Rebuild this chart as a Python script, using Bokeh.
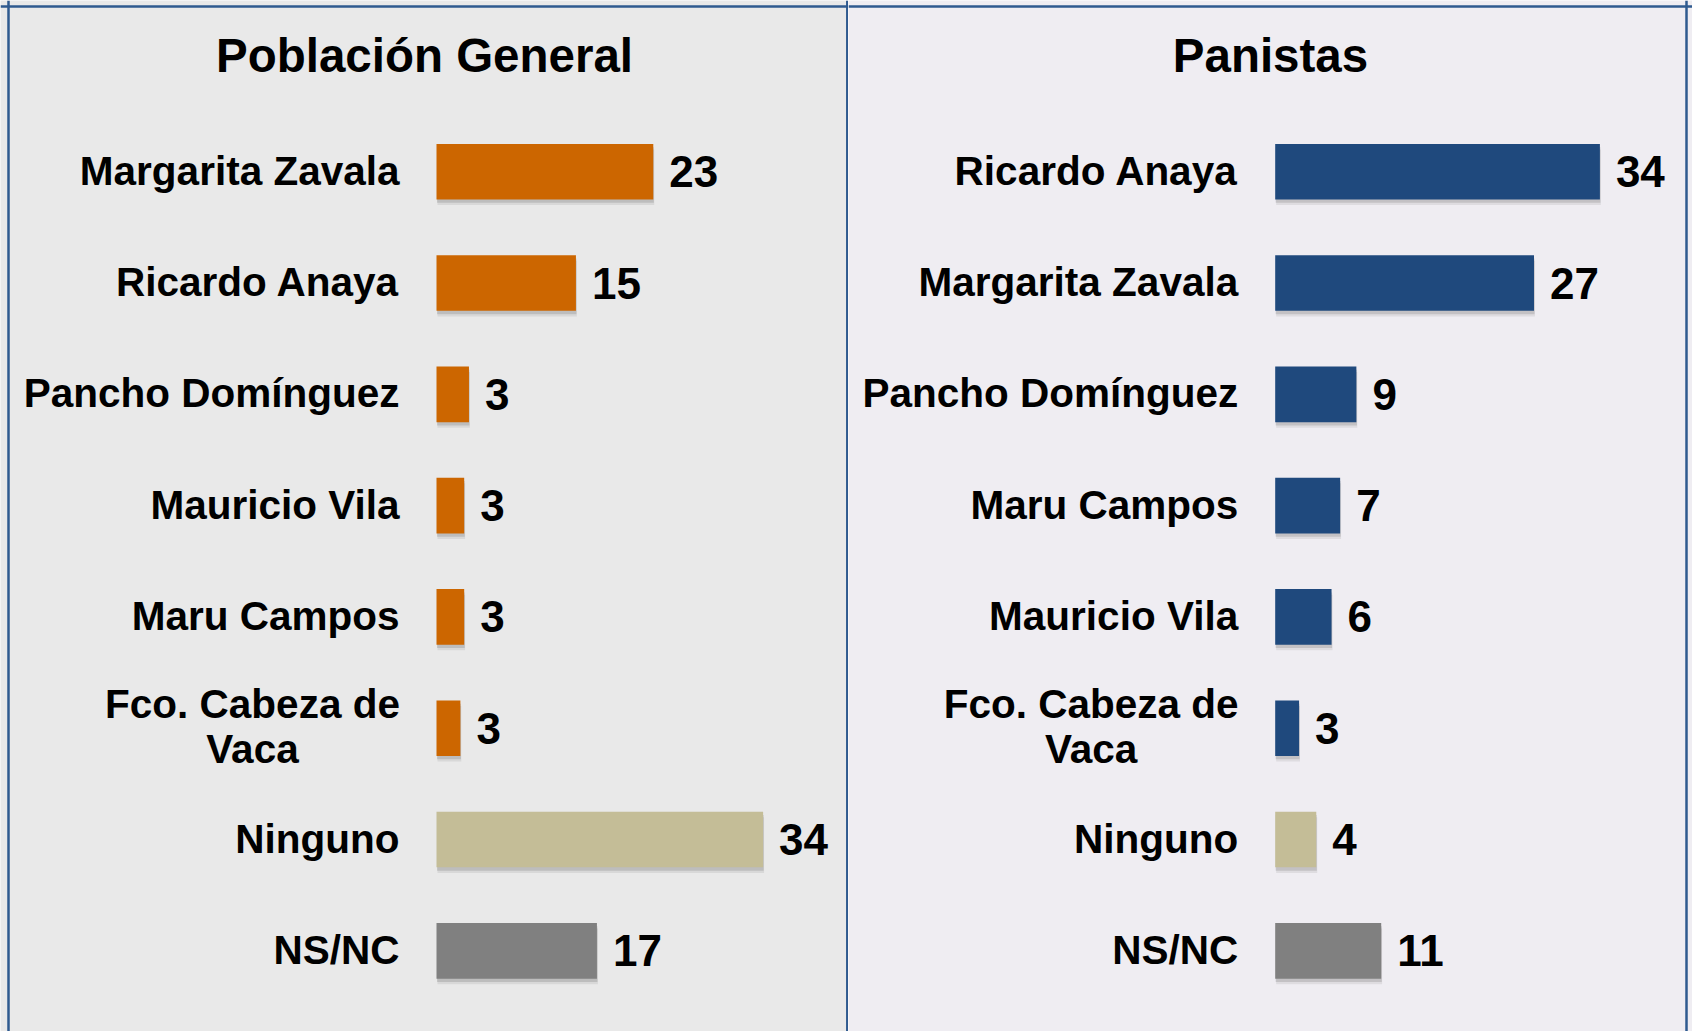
from bokeh.plotting import figure
from bokeh.layouts import row
from bokeh.models import ColumnDataSource, Range1d, Span
from bokeh.transform import dodge
from bokeh.core.properties import value
from bokeh.embed import file_html
from bokeh.resources import INLINE

# ---------------- data ----------------
left_title = "Población General"
left_names = ["Margarita Zavala", "Ricardo Anaya", "Pancho Domínguez", "Mauricio Vila",
              "Maru Campos", "Fco. Cabeza de\nVaca", "Ninguno", "NS/NC"]
left_values = [22.7, 14.6, 3.4, 2.9, 2.9, 2.5, 34.2, 16.8]
left_labels = ["23", "15", "3", "3", "3", "3", "34", "17"]

right_title = "Panistas"
right_names = ["Ricardo Anaya", "Margarita Zavala", "Pancho Domínguez", "Maru Campos",
               "Mauricio Vila", "Fco. Cabeza de\nVaca", "Ninguno", "NS/NC"]
right_values = [34.0, 27.1, 8.5, 6.8, 5.9, 2.5, 4.3, 11.1]
right_labels = ["34", "27", "9", "7", "6", "3", "4", "11"]

# ---------------- style ----------------
ORANGE = "#CC6600"
BLUE = "#1F497D"
TAN = "#C4BD97"
GRAY = "#808080"
BORDER = "#2F5A8F"
FONT = value("Liberation Sans")

PX_PER_UNIT = 9.55
ROW_PX = 111.3
H = 1031
FIRST_ROW_PX = 171.2


def bar_color(name, main):
    if name == "Ninguno":
        return TAN
    if name == "NS/NC":
        return GRAY
    return main


def panel(title, names, values, labels, main_color, width, zero_px, bg,
          left_border_px, right_border_px):
    x0 = -zero_px / PX_PER_UNIT
    x1 = x0 + width / PX_PER_UNIT
    ytop = -FIRST_ROW_PX / ROW_PX
    ybot = ytop + H / ROW_PX
    p = figure(width=width, height=H, x_range=Range1d(x0, x1), y_range=Range1d(ybot, ytop),
               output_backend="svg", toolbar_location=None, min_border=0,
               x_axis_location=None, y_axis_location=None, tools="")
    p.grid.visible = False
    p.outline_line_color = None
    p.background_fill_color = bg
    p.border_fill_color = bg

    ys = list(range(len(names)))
    src = ColumnDataSource(dict(y=ys, v=values, lab=labels,
                                color=[bar_color(n, main_color) for n in names]))

    # soft drop shadow
    p.hbar(y=dodge("y", 0.05), left=0.1, right=dodge("v", 0.1), height=0.5,
           fill_color="black", fill_alpha=0.07, line_color=None, source=src)
    p.hbar(y=dodge("y", 0.03), left=0.05, right=dodge("v", 0.06), height=0.5,
           fill_color="black", fill_alpha=0.12, line_color=None, source=src)
    # bars
    p.hbar(y="y", left=0, right="v", height=0.5, fill_color="color",
           line_color=None, source=src)

    # value labels
    p.text(x="v", y="y", text="lab", x_offset=16, y_offset=0, text_align="left",
           text_baseline="alphabetic", text_font=FONT, text_font_style="bold",
           text_font_size="44px", text_color="black", source=src)

    # category labels
    single = [(y, n) for y, n in zip(ys, names) if "\n" not in n]
    p.text(x=0, y=[s[0] for s in single], text=[s[1] for s in single],
           x_offset=-37, y_offset=-1, text_align="right", text_baseline="alphabetic",
           text_font=FONT, text_font_style="bold", text_font_size="40.5px",
           text_color="black")
    multi_y, multi_t, multi_off = [], [], []
    for y, n in zip(ys, names):
        if "\n" in n:
            parts = n.split("\n")
            k = len(parts)
            for j, part in enumerate(parts):
                multi_y.append(y)
                multi_t.append(part)
                multi_off.append(-2 + (j - (k - 1) / 2) * 45)
    if multi_y:
        p.text(x=0, y=multi_y, text=multi_t, x_offset=-184, y_offset=multi_off,
               text_align="center", text_baseline="alphabetic",
               text_font=FONT, text_font_style="bold", text_font_size="40.5px",
               text_color="black")

    # title
    p.text(x=[(x0 + x1) / 2], y=[ytop + 55.3 / ROW_PX], text=[title], text_align="center",
           text_baseline="alphabetic", text_font=FONT, text_font_style="bold",
           text_font_size="47.5px", text_color="black")

    # frame borders
    p.add_layout(Span(location=ytop + 6 / ROW_PX, dimension="width",
                      line_color=BORDER, line_width=2.5))
    if left_border_px is not None:
        p.add_layout(Span(location=x0 + left_border_px / PX_PER_UNIT, dimension="height",
                          line_color=BORDER, line_width=2.5))
    p.add_layout(Span(location=x1 - right_border_px / PX_PER_UNIT, dimension="height",
                      line_color=BORDER, line_width=2.5))
    return p


p1 = panel(left_title, left_names, left_values, left_labels, ORANGE,
           848, 436, "#E9E9E9", 8, 1.2)
p2 = panel(right_title, right_names, right_values, right_labels, BLUE,
           844, 426.7, "#EFEDF2", None, 6)

layout = row(p1, p2)
open("out.html", "w").write(file_html(layout, INLINE))
